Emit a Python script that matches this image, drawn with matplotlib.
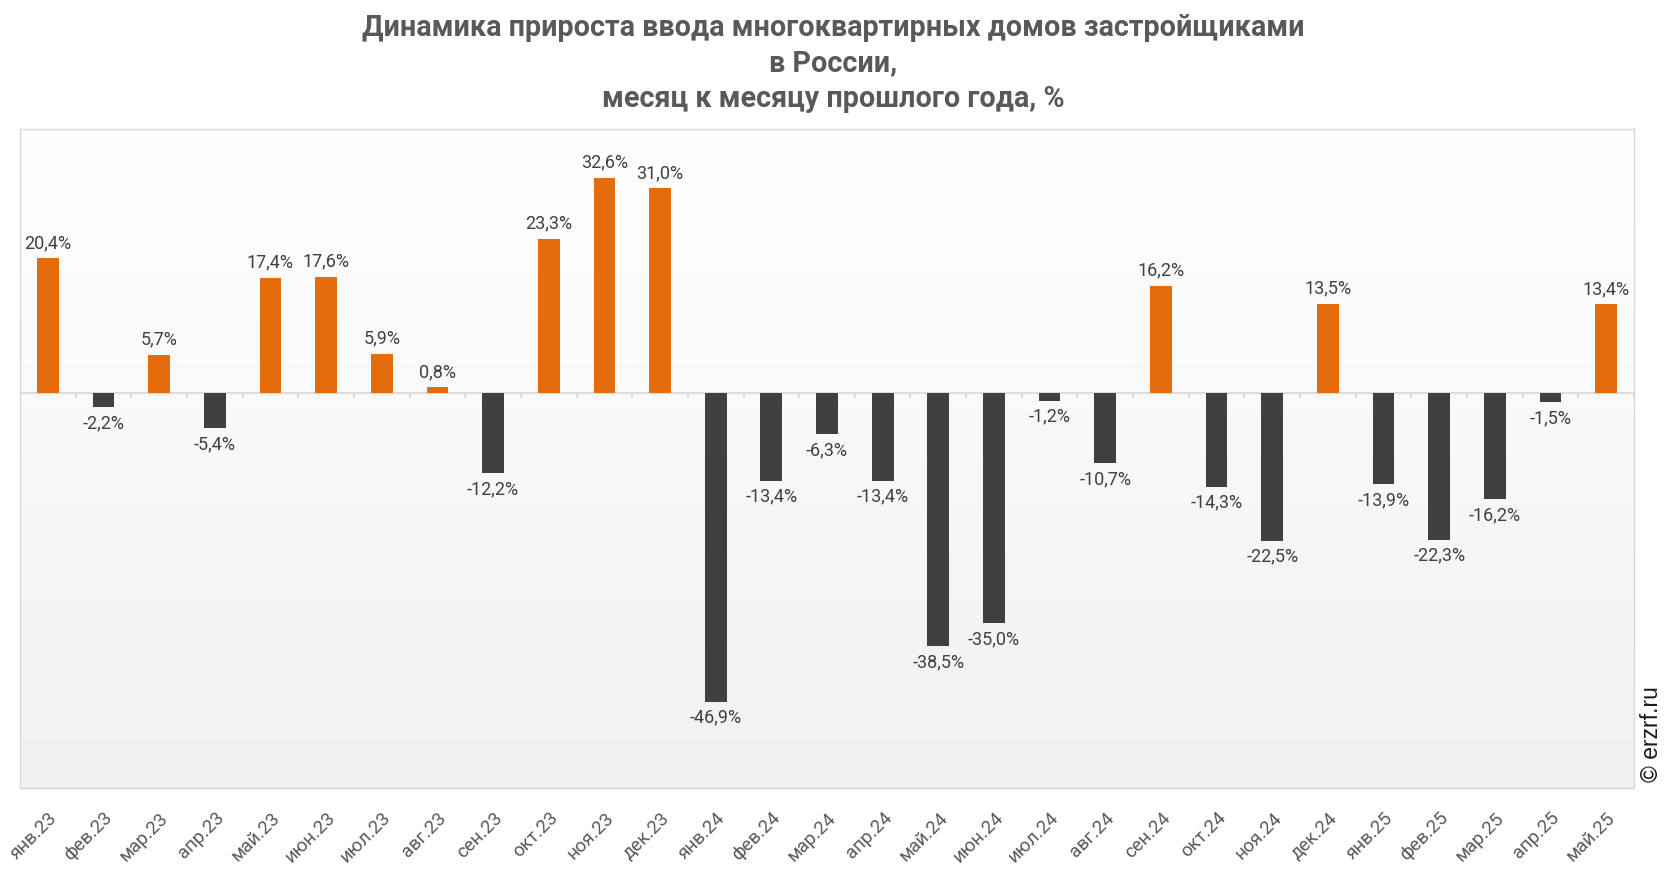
import matplotlib
matplotlib.use("Agg")
import matplotlib.pyplot as plt
import matplotlib.transforms as mtransforms
from matplotlib.colors import LinearSegmentedColormap
import numpy as np

months = ["янв.23","фев.23","мар.23","апр.23","май.23","июн.23","июл.23","авг.23","сен.23","окт.23","ноя.23","дек.23",
          "янв.24","фев.24","мар.24","апр.24","май.24","июн.24","июл.24","авг.24","сен.24","окт.24","ноя.24","дек.24",
          "янв.25","фев.25","мар.25","апр.25","май.25"]
values = [20.4,-2.2,5.7,-5.4,17.4,17.6,5.9,0.8,-12.2,23.3,32.6,31.0,
          -46.9,-13.4,-6.3,-13.4,-38.5,-35.0,-1.2,-10.7,16.2,-14.3,-22.5,13.5,
          -13.9,-22.3,-16.2,-1.5,13.4]

title = "Динамика прироста ввода многоквартирных домов застройщиками\nв России,\nмесяц к месяцу прошлого года, %"

plt.rcParams['font.family'] = ['Roboto', 'DejaVu Sans']

W, H = 1666, 872
fig = plt.figure(figsize=(W/100, H/100), dpi=100)
ax = fig.add_axes([20/W, 1-788/H, (1634-20)/W, (788-129)/H])

n = len(values)
x = np.arange(n)
colors = ['#E46C0A' if v >= 0 else '#404040' for v in values]
ax.bar(x, values, width=0.39, color=colors, zorder=3)

# gradient background
grad = np.linspace(0, 1, 256).reshape(-1, 1)
cmap = LinearSegmentedColormap.from_list('g', ['#ffffff', '#f1f1f1'])
ax.imshow(grad, aspect='auto', cmap=cmap, extent=[-0.5, n-0.5, -60, 40], origin='upper', zorder=0)
ax.set_xlim(-0.5, n-0.5)
ax.set_ylim(-60, 40)

# zero line with small category ticks
ax.axhline(0, color='#d9d9d9', lw=1.3, zorder=2)
bounds = np.arange(n+1) - 0.5
ax.vlines(bounds, -0.75, 0, color='#d9d9d9', lw=1.3, zorder=2)

for xi, v in zip(x, values):
    lbl = f"{v:.1f}%".replace('.', ',')
    if v >= 0:
        ax.annotate(lbl, (xi, v), xytext=(0, 4.5), textcoords='offset points', ha='center', va='bottom',
                    fontsize=13, color='#404040', zorder=4)
    else:
        ax.annotate(lbl, (xi, v), xytext=(0, -5), textcoords='offset points', ha='center', va='top',
                    fontsize=13, color='#404040', zorder=4)

ax.set_xticks(x)
ax.set_xticklabels(months, rotation=45, ha='right', va='top', rotation_mode='anchor', fontsize=13.5, color='#595959')
ax.tick_params(axis='x', length=0, pad=15)
ax.set_yticks([])
for s in ax.spines.values():
    s.set_color('#d9d9d9')
    s.set_linewidth(1)

fig.text(0.5, 1-14/H, title, ha='center', va='top', fontsize=20.7, fontweight='bold', color='#595959', linespacing=1.33)
fig.text(1652/W, 1-734/H, "© erzrf.ru", rotation=90, ha='center', va='center', fontsize=16.5,
         color='#1a1a1a', family=['Liberation Sans', 'DejaVu Sans'])

fig.savefig('out.png', dpi=100, facecolor='white')
